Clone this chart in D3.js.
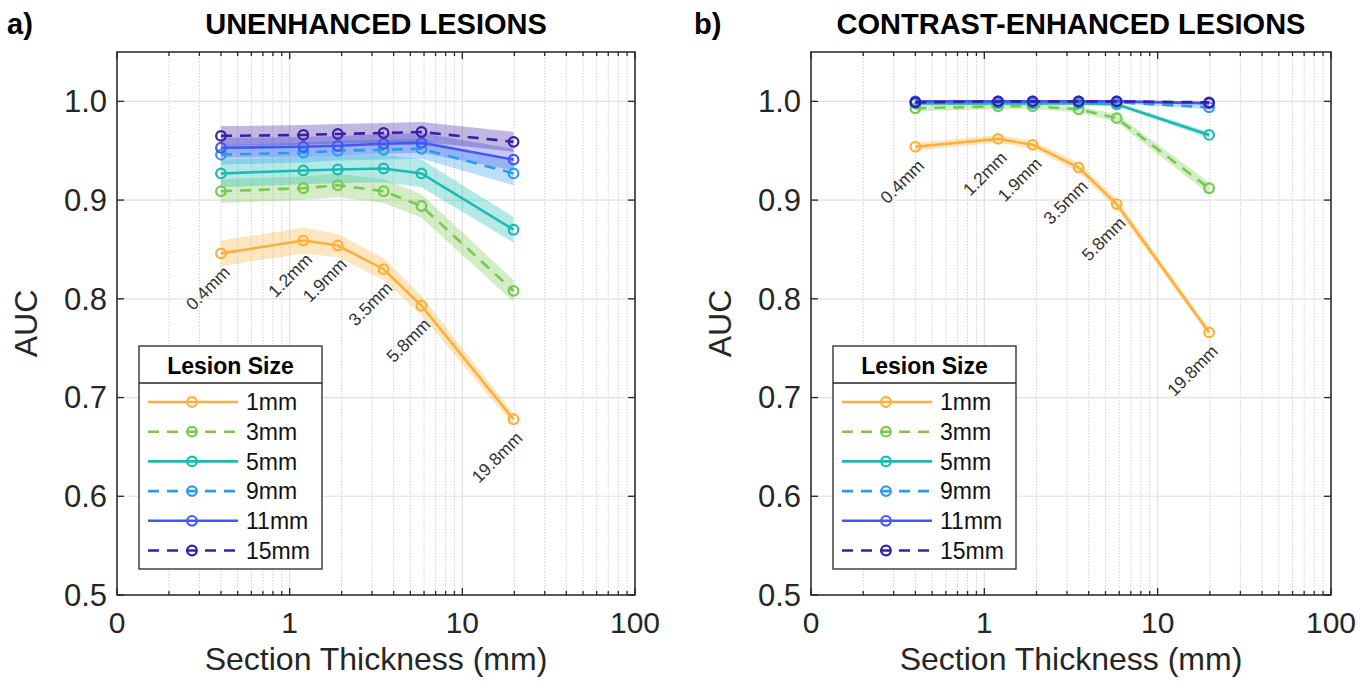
<!DOCTYPE html>
<html>
<head>
<meta charset="utf-8">
<script src="https://cdn.jsdelivr.net/npm/d3@7"></script>
<style>
  body { margin: 0; background: #fff; }
  svg { display: block; font-family: "Liberation Sans", Arial, sans-serif; }
</style>
</head>
<body>
<script>
// data
const thickness = [0.4, 1.2, 1.9, 3.5, 5.8, 19.8];
const thicknessLabels = ["0.4mm", "1.2mm", "1.9mm", "3.5mm", "5.8mm", "19.8mm"];
const lesionSizes = ["1mm", "3mm", "5mm", "9mm", "11mm", "15mm"];
const xTicks = [0.1, 1, 10, 100];
const xTickLabels = ["0", "1", "10", "100"];
const yTicks = [0.5, 0.6, 0.7, 0.8, 0.9, 1.0];

// AUC per lesion size (rows) and section thickness (cols)
const aucUnenhanced = [
  [0.846, 0.859, 0.854, 0.830, 0.793, 0.678],
  [0.909, 0.912, 0.915, 0.909, 0.894, 0.808],
  [0.927, 0.930, 0.931, 0.932, 0.927, 0.870],
  [0.946, 0.948, 0.950, 0.951, 0.952, 0.927],
  [0.953, 0.954, 0.955, 0.957, 0.958, 0.941],
  [0.965, 0.966, 0.967, 0.968, 0.969, 0.959]
];
const ciUnenhanced = [
  [0.013, 0.013, 0.012, 0.011, 0.010, 0.006],
  [0.012, 0.012, 0.012, 0.012, 0.012, 0.011],
  [0.014, 0.014, 0.014, 0.014, 0.014, 0.013],
  [0.010, 0.010, 0.010, 0.010, 0.010, 0.012],
  [0.010, 0.010, 0.010, 0.010, 0.010, 0.011],
  [0.010, 0.010, 0.010, 0.010, 0.010, 0.010]
];
const aucEnhanced = [
  [0.954, 0.962, 0.956, 0.933, 0.896, 0.766],
  [0.993, 0.995, 0.995, 0.992, 0.983, 0.912],
  [0.998, 0.998, 0.998, 0.998, 0.997, 0.966],
  [0.999, 0.999, 0.999, 0.999, 0.999, 0.994],
  [1.000, 1.000, 1.000, 1.000, 1.000, 0.998],
  [0.999, 1.000, 1.000, 1.000, 1.000, 0.999]
];
const ciEnhanced = [
  [0.004, 0.004, 0.004, 0.005, 0.005, 0.004],
  [0.003, 0.003, 0.003, 0.003, 0.004, 0.006],
  [0.002, 0.002, 0.002, 0.002, 0.002, 0.003],
  [0.001, 0.001, 0.001, 0.001, 0.001, 0.002],
  [0.001, 0.001, 0.001, 0.001, 0.001, 0.001],
  [0.001, 0.001, 0.001, 0.001, 0.001, 0.001]
];

const colors = ["#FBB03B", "#78C850", "#1ABAB0", "#2B9BF0", "#4655F5", "#3A1EA5"];
const dashed = [false, true, false, true, false, true];

const width = 1369, height = 685;
const svg = d3.select("body").append("svg")
  .attr("width", width)
  .attr("height", height);

const panels = [
  { tag: "a)", title: "UNENHANCED LESIONS", auc: aucUnenhanced, ci: ciUnenhanced, left: 117, right: 635, tagX: 7 },
  { tag: "b)", title: "CONTRAST-ENHANCED LESIONS", auc: aucEnhanced, ci: ciEnhanced, left: 811, right: 1331, tagX: 694 }
];
const plotTop = 52, plotBottom = 595;
const axisColor = "#262626";

panels.forEach(p => {
  const x = d3.scaleLog().domain([0.1, 100]).range([p.left, p.right]);
  const y = d3.scaleLinear().domain([0.5, 1.05]).range([plotBottom, plotTop]);
  const g = svg.append("g");

  // minor x values
  const minor = [];
  [0.1, 1, 10].forEach(d => { for (let k = 2; k <= 9; k++) minor.push(d * k); });

  // grid
  g.selectAll(".minor").data(minor).enter().append("line")
    .attr("x1", d => x(d)).attr("x2", d => x(d))
    .attr("y1", plotTop).attr("y2", plotBottom)
    .attr("stroke", "#cfcfcf").attr("stroke-width", 1)
    .attr("stroke-dasharray", "1.5,1.5");
  g.selectAll(".majx").data(xTicks).enter().append("line")
    .attr("x1", d => x(d)).attr("x2", d => x(d))
    .attr("y1", plotTop).attr("y2", plotBottom)
    .attr("stroke", "#e0e0e0").attr("stroke-width", 1.2);
  g.selectAll(".majy").data(yTicks).enter().append("line")
    .attr("x1", p.left).attr("x2", p.right)
    .attr("y1", d => y(d)).attr("y2", d => y(d))
    .attr("stroke", "#e0e0e0").attr("stroke-width", 1.2);

  // confidence bands
  const area = d3.area()
    .x(d => x(d.t))
    .y0(d => y(d.v - d.c))
    .y1(d => y(d.v + d.c));
  const line = d3.line().x(d => x(d.t)).y(d => y(d.v));

  const series = p.auc.map((vals, i) => ({
    i,
    pts: vals.map((v, j) => ({ t: thickness[j], v, c: p.ci[i][j] }))
  }));

  g.selectAll(".band").data(series).enter().append("path")
    .attr("d", s => area(s.pts))
    .attr("fill", s => colors[s.i])
    .attr("fill-opacity", 0.32);

  series.forEach(s => {
    g.append("path")
      .attr("d", line(s.pts))
      .attr("fill", "none")
      .attr("stroke", colors[s.i])
      .attr("stroke-width", 2.6)
      .attr("stroke-dasharray", dashed[s.i] ? "11,8" : null);
    g.selectAll(null).data(s.pts).enter().append("circle")
      .attr("cx", d => x(d.t)).attr("cy", d => y(d.v))
      .attr("r", 4.8)
      .attr("fill", "none")
      .attr("stroke", colors[s.i])
      .attr("stroke-width", 2.2);
  });

  // thickness labels below the 1mm curve
  g.selectAll(".tl").data(p.auc[0]).enter().append("text")
    .attr("transform", (d, j) => `translate(${x(thickness[j]) + 1},${y(d) + 11}) rotate(-45)`)
    .attr("text-anchor", "end")
    .attr("dominant-baseline", "hanging")
    .attr("font-size", 17.5)
    .attr("fill", "#333")
    .text((d, j) => thicknessLabels[j]);

  // axes box
  g.append("rect")
    .attr("x", p.left).attr("y", plotTop)
    .attr("width", p.right - p.left).attr("height", plotBottom - plotTop)
    .attr("fill", "none").attr("stroke", axisColor).attr("stroke-width", 1.5);

  // ticks (inward, all four sides)
  const tk = (x1, y1, x2, y2) => g.append("line")
    .attr("x1", x1).attr("y1", y1).attr("x2", x2).attr("y2", y2)
    .attr("stroke", axisColor).attr("stroke-width", 1.3);
  xTicks.forEach(d => { tk(x(d), plotBottom, x(d), plotBottom - 7); tk(x(d), plotTop, x(d), plotTop + 7); });
  minor.forEach(d => { tk(x(d), plotBottom, x(d), plotBottom - 4); tk(x(d), plotTop, x(d), plotTop + 4); });
  yTicks.forEach(d => { tk(p.left, y(d), p.left + 7, y(d)); tk(p.right, y(d), p.right - 7, y(d)); });

  // tick labels
  g.selectAll(".xl").data(xTicks).enter().append("text")
    .attr("x", d => x(d)).attr("y", 633)
    .attr("text-anchor", "middle")
    .attr("font-size", 30).attr("fill", axisColor)
    .text((d, i) => xTickLabels[i]);
  g.selectAll(".yl").data(yTicks).enter().append("text")
    .attr("x", p.left - 10).attr("y", d => y(d))
    .attr("dy", "0.35em")
    .attr("text-anchor", "end")
    .attr("font-size", 31).attr("fill", axisColor)
    .text(d => d3.format(".1f")(d));

  // axis titles
  g.append("text")
    .attr("x", (p.left + p.right) / 2).attr("y", 670)
    .attr("text-anchor", "middle")
    .attr("font-size", 32).attr("fill", axisColor)
    .text("Section Thickness (mm)");
  g.append("text")
    .attr("transform", `translate(${p.left - 80},${(plotTop + plotBottom) / 2}) rotate(-90)`)
    .attr("text-anchor", "middle")
    .attr("font-size", 32).attr("fill", axisColor)
    .text("AUC");

  // panel title
  g.append("text")
    .attr("x", (p.left + p.right) / 2).attr("y", 34)
    .attr("text-anchor", "middle")
    .attr("font-size", 29).attr("font-weight", "bold")
    .text(p.title);
  g.append("text")
    .attr("x", p.tagX).attr("y", 34)
    .attr("font-size", 29).attr("font-weight", "bold")
    .text(p.tag);

  // legend
  const lx = p.left + 22, ly = 346, lw = 183, lh = 223;
  const lg = g.append("g");
  lg.append("rect")
    .attr("x", lx).attr("y", ly).attr("width", lw).attr("height", lh)
    .attr("fill", "#fff").attr("stroke", axisColor).attr("stroke-width", 1.3);
  lg.append("line")
    .attr("x1", lx).attr("x2", lx + lw).attr("y1", ly + 37).attr("y2", ly + 37)
    .attr("stroke", axisColor).attr("stroke-width", 1.3);
  lg.append("text")
    .attr("x", lx + lw / 2).attr("y", ly + 28)
    .attr("text-anchor", "middle")
    .attr("font-size", 23).attr("font-weight", "bold")
    .text("Lesion Size");
  lesionSizes.forEach((name, i) => {
    const yy = ly + 56 + i * 29.7;
    lg.append("line")
      .attr("x1", lx + 9).attr("x2", lx + 99)
      .attr("y1", yy).attr("y2", yy)
      .attr("stroke", colors[i]).attr("stroke-width", 2.6)
      .attr("stroke-dasharray", dashed[i] ? "11,8" : null);
    lg.append("circle")
      .attr("cx", lx + 53).attr("cy", yy).attr("r", 4.8)
      .attr("fill", "none").attr("stroke", colors[i]).attr("stroke-width", 2.2);
    lg.append("text")
      .attr("x", lx + 107).attr("y", yy)
      .attr("dy", "0.36em")
      .attr("font-size", 23).attr("fill", "#111")
      .text(name);
  });
});
</script>
</body>
</html>
